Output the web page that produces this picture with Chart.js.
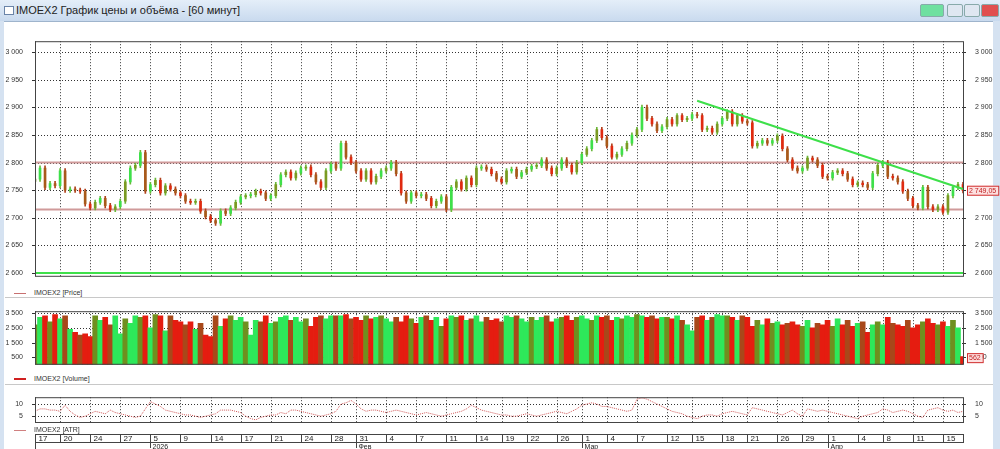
<!DOCTYPE html>
<html><head><meta charset="utf-8">
<script src="https://cdn.jsdelivr.net/npm/chart.js@4.4.1/dist/chart.umd.min.js"></script>
<style>
body{margin:0;width:1000px;height:449px;background:#fff;overflow:hidden;font-family:"Liberation Sans",Arial,sans-serif;position:relative}
#bar{position:absolute;left:0;top:0;width:1000px;height:21px;background:linear-gradient(#e4eef9,#c9daee);border-bottom:1px solid #9fb4cc}
#bar span{position:absolute;left:16px;top:4px;font-size:11px;color:#222}
#bar i{position:absolute;left:4px;top:6px;width:8px;height:7px;border:1px solid #6a84a8;background:#fff}
.btn{position:absolute;top:4px;height:11px;border:1px solid #8aa;border-radius:2px}
.cv{position:absolute;left:0}
.lg{position:absolute;left:14px;font-size:7px;color:#333}
.lg b{display:inline-block;width:12px;height:1px;vertical-align:middle;margin-right:8px}
.sep{position:absolute;left:5px;width:988px;height:1px;background:#c8c8c8}
#edge{position:absolute;right:0;top:21px;width:7px;height:428px;background:#d5e2f1}
#ledge{position:absolute;left:0;top:21px;width:4px;height:428px;background:#d5e2f1}
</style></head><body>
<div id="bar"><i></i><span>IMOEX2 График цены и объёма - [60 минут]</span>
<div class="btn" style="left:920px;width:22px;background:#6fe0a0"></div>
<div class="btn" style="left:947px;width:14px;background:#dfe7f1"></div>
<div class="btn" style="left:964px;width:14px;background:#dfe7f1"></div>
<div class="btn" style="left:981px;width:16px;background:#e05050"></div></div>
<div id="ledge"></div><div id="edge"></div>
<canvas id="p" class="cv" style="top:33px" width="1000" height="252"></canvas>
<div class="lg" style="top:289px"><b style="background:#c87070"></b>IMOEX2 [Price]</div>
<div class="sep" style="top:297px"></div>
<canvas id="v" class="cv" style="top:303px" width="1000" height="70"></canvas>
<div class="lg" style="top:375px"><b style="background:#d02020;height:2px"></b>IMOEX2 [Volume]</div>
<div class="sep" style="top:384px"></div>
<canvas id="a" class="cv" style="top:389px" width="1000" height="60"></canvas>
<div class="lg" style="top:426px"><b style="background:#d08080"></b>IMOEX2 [ATR]</div>
<script>
const closes=[
2770,2790,2755,2762,2758,2785, 2750,2752,2750,2748,2725,2718,
2728,2735,2722,2715,2720,2730, 2765,2790,2795,2818,2748,2760,
2768,2745,2758,2752,2745,2740, 2730,2728,2730,2712,2702,2695,
2690,2712,2708,2718,2728,2738, 2740,2742,2748,2745,2735,2740,
2760,2778,2783,2772,2781,2790, 2792,2778,2765,2755,2785,2797,
2790,2835,2810,2800,2785,2770, 2785,2765,2775,2785,2790,2800,
2780,2745,2730,2745,2740,2742, 2735,2722,2730,2738,2715,2755,
2765,2752,2772,2760,2790,2792, 2788,2780,2770,2765,2785,2788,
2775,2782,2788,2793,2795,2805, 2790,2780,2790,2805,2795,2783,
2800,2815,2825,2840,2860,2845, 2830,2810,2815,2825,2835,2850,
2860,2900,2880,2870,2858,2865, 2878,2870,2885,2878,2880,2887,
2885,2860,2862,2855,2870,2880, 2892,2870,2885,2875,2872,2830,
2835,2840,2835,2840,2848,2825, 2805,2790,2785,2790,2808,2805,
2795,2775,2772,2782,2785,2780, 2770,2760,2763,2760,2755,2780,
2795,2800,2775,2772,2765,2748, 2735,2722,2718,2755,2720,2715,
2720,2710,2740,2755,2760,2749];
const volumes=[
2700,3200,3300,2900,3400,3100, 3300,2400,2200,2000,2100,1900,
3300,3000,3200,2700,3300,2100, 3100,2800,3300,3200,3300,2500,
3400,3300,2300,3300,3000,2900, 2700,2900,2400,2800,2000,1900,
3300,2600,3100,3300,3000,3200, 2900,2000,3000,2900,3300,2800,
2900,3200,3300,3000,3200,2900, 3100,2600,3200,3300,3100,3300,
3300,3300,3400,3100,3200,3000, 3300,3100,3200,3300,3100,2900,
3200,2900,3300,3100,2800,3200, 3300,3000,3200,2600,3100,3300,
3200,3300,3000,3100,3300,2900, 3200,3000,3100,2900,3300,3200,
3300,3100,2900,3200,3000,3200, 3300,2900,3100,3200,3300,3000,
3200,3300,3100,3000,3300,3200, 3300,3000,3200,3100,3300,3200,
3400,3300,3200,3300,3100,3200, 3200,3100,3300,3000,2700,2300,
3200,3300,3000,3200,3400,3300, 3300,3200,3000,3300,3200,2600,
3000,2700,3100,2800,2900,2700, 2800,2900,2700,2600,3000,2500,
2800,2700,3000,2600,3100,2700, 3000,2600,2800,2900,2200,2700,
2900,2700,3200,2800,2700,2600, 3000,2500,2700,2900,3100,2800,
2700,2900,2600,3000,2500,562];
const atr=[
7,8,8,7.5,7.5,7, 9.5,7,5.5,4.5,5,6, 7,6.5,6,7.5,6.5,6, 5.5,5,4.5,5,8,11,
10,9,7.5,7,6.5,6, 5.5,5.5,5,4.5,5,5.5, 6,7.5,7.5,7.5,7,6.5, 5,4,3.5,4.5,5,5.5,
5.5,6.5,6,7.5,7.5,7, 6.5,6,5.5,5,5.5,6, 7,10,10.5,11.5,10,8, 7,7.5,7.5,7,6.5,7,
7.5,7,6.5,6,5.5,6, 6.5,6,5.5,5,5.5,6, 6.5,7,8,9.5,8.5,7.5, 7,6.5,6,5.5,5.5,5,
5,5.5,6,5.5,5,5.5, 6,6.5,7,6.5,6,7, 8,9.5,10,10.5,10,9, 9,8.5,8,7.5,7,7.5,
12,12.5,12,11,10,9, 8,7,6.5,6,5,4.5, 4,5,5.5,5.5,5,6, 6.5,7,6.5,6,5.5,8.5,
8,7.5,7,6.5,6,5.5, 6.5,7.5,6,5,8,7.5, 7,7.5,7,6.5,6,5.5, 5,4.5,4,5,5.5,6,
6.5,8,7.5,6.5,7,7.5, 7,6,5,4.5,7.5,8, 8.5,7.5,7,7.5,6.5,7];
const dayLabels=['17','20','24','27','5','9','14','17','21','24','28','31','4','7','11','14','19','22','26','1','4','7','12','15','18','21','26','29','1','4','8','11','15'];
const dayIdx=[0,5,11,17,23,29,35,41,47,53,59,64,70,76,82,88,93,98,104,109,114,120,126,131,137,142,148,153,158,164,169,175,181];
const monthLabels=['2026','Фев','Мар','Апр'];
const monthIdx=[23,64,109,158];
const priceTicks=[2600,2650,2700,2750,2800,2850,2900,2950,3000];
const volTicks=[500,1000,1500,2000,2500,3000,3500];
const atrTicks=[5,10];
const levels={red:[2800,2715],green:[2600]};
const trendIdx=[132,185], trendVal=[2912,2752];
const lastPrice='2 749,05', lastVol='562';

const labels=closes.map((_,i)=>i);
const opens=closes.map((c,i)=>i?closes[i-1]:c-4);
const up=closes.map((c,i)=>c>=opens[i]);
const fmt=v=>String(v).replace(/\B(?=(\d{3})+(?!\d))/g,' ');
const F={size:7,family:'Liberation Sans'};
const L=35,R=37;
Chart.defaults.animation=false;Chart.defaults.responsive=false;
Chart.defaults.plugins.legend.display=false;Chart.defaults.plugins.tooltip.enabled=false;
const gridX={display:true,offset:false,grid:{display:false},border:{display:false},ticks:{display:false,autoSkip:false},afterFit:s=>{s.height=0}};
function yAx(pos,min,max,tk){return {position:pos,min,max,grid:{display:false},border:{display:false},
 afterBuildTicks:s=>{s.ticks=tk.map(v=>({value:v}))},
 ticks:{font:F,color:'#333',padding:4,callback:v=>fmt(v)},afterFit:s=>{s.width=pos==='left'?L:R}};}
const frame={id:'frame',
 beforeDatasetsDraw(ch){const c=ch.ctx,ca=ch.chartArea,y=ch.scales.y,x=ch.scales.x;c.save();c.strokeStyle='#333';c.lineWidth=1;c.setLineDash([1,2]);
  y.ticks.forEach(t=>{const py=Math.round(y.getPixelForValue(t.value))+.5;c.beginPath();c.moveTo(ca.left,py);c.lineTo(ca.right,py);c.stroke();});
  dayIdx.forEach(ix=>{const px=Math.round(x.getPixelForValue(ix))+.5;c.beginPath();c.moveTo(px,ca.top);c.lineTo(px,ca.bottom);c.stroke();});
  c.setLineDash([]);
  y.ticks.forEach(t=>{const py=Math.round(y.getPixelForValue(t.value))+.5;c.beginPath();c.moveTo(ca.left-3,py);c.lineTo(ca.left,py);c.moveTo(ca.right,py);c.lineTo(ca.right+3,py);c.stroke();});
  c.restore();},
 afterDraw(ch,a,o){const c=ch.ctx,ca=ch.chartArea;c.save();c.strokeStyle='#444';c.lineWidth=1;c.setLineDash([]);c.strokeRect(ca.left+.5,ca.top+.5,ca.right-ca.left,ca.bottom-ca.top-1);
 if(o.box){const y=ch.scales.y.getPixelForValue(o.val);c.font='7px Liberation Sans';const w=c.measureText(o.box).width+4;c.fillStyle='#fde0e0';c.fillRect(ca.right+4,y-5,w,10);c.strokeStyle='#d03030';c.strokeRect(ca.right+4.5,y-4.5,w,9);c.fillStyle='#c02020';c.textBaseline='middle';c.fillText(o.box,ca.right+6,y);}
 c.restore();}};

const lineSet=(v,col,w)=>({type:'line',data:labels.map(()=>v),borderColor:col,borderWidth:w,pointRadius:0,order:5});
const trend=labels.map(i=>trendIdx.includes(i)?trendVal[trendIdx.indexOf(i)]:null);
new Chart(document.getElementById('p'),{type:'bar',data:{labels,datasets:[
 {data:closes.map((c,i)=>[Math.min(opens[i],c)-4,Math.max(opens[i],c)+4]),backgroundColor:up.map(u=>u?'#6ab83a':'#b0401c'),barThickness:1,grouped:false,order:2},
 {data:closes.map((c,i)=>[opens[i],c===opens[i]?c+1:c]),backgroundColor:up.map((u,i)=>u?(i%2?'#3ee04a':'#7a9a22'):(i%2?'#e02a10':'#a85a1a')),barThickness:2,grouped:false,order:1},
 ...levels.red.map(v=>lineSet(v,'#d09a9a',2)),...levels.green.map(v=>lineSet(v,'#3ee04a',2)),
 {type:'line',data:trend,spanGaps:true,borderColor:'#3ee04a',borderWidth:2,pointRadius:0,order:0}
]},options:{scales:{x:gridX,y:yAx('left',2593,3020,priceTicks),y2:yAx('right',2593,3020,priceTicks)},plugins:{frame:{box:lastPrice,val:2749}}},plugins:[frame]});

new Chart(document.getElementById('v'),{type:'bar',data:{labels,datasets:[
 {data:volumes,backgroundColor:up.map((u,i)=>u?(i%3?'#2ee85a':'#6f8f1f'):(i%3?'#e51c10':'#a8481a')),barPercentage:1,categoryPercentage:1}
]},options:{scales:{x:gridX,y:yAx('left',0,3620,volTicks),y2:yAx('right',0,3620,volTicks)},plugins:{frame:{box:lastVol,val:450}}},plugins:[frame]});

const dateAxis={id:'dates',afterDraw(ch){const c=ch.ctx,ca=ch.chartArea,x=ch.scales.x;c.save();c.strokeStyle='#444';c.lineWidth=1;
 const t=ca.bottom+11,b=t+8;c.strokeRect(ca.left+.5,t+.5,ca.right-ca.left,8);
 c.font='8px Liberation Sans';c.fillStyle='#222';c.textBaseline='middle';
 dayIdx.forEach((ix,k)=>{const px=Math.round(x.getPixelForValue(ix))+.5;c.beginPath();c.moveTo(px,t);c.lineTo(px,b);c.stroke();c.fillText(dayLabels[k],px+3,t+4.5);});
 c.beginPath();c.moveTo(ca.left+.5,b);c.lineTo(ca.left+.5,b+8);c.stroke();
 c.font='7px Liberation Sans';
 monthIdx.forEach((ix,k)=>{const px=Math.round(x.getPixelForValue(ix))+.5;c.beginPath();c.moveTo(px,b);c.lineTo(px,b+6);c.stroke();c.fillText(monthLabels[k],px+2,b+5);});
 c.restore();}};
new Chart(document.getElementById('a'),{type:'line',data:{labels,datasets:[
 {data:atr,borderColor:'#d05858',borderWidth:1,borderDash:[1,1],pointRadius:0,tension:0}
]},options:{layout:{padding:{bottom:26}},scales:{x:gridX,y:yAx('left',2.2,12.8,atrTicks),y2:yAx('right',2.2,12.8,atrTicks)}},plugins:[frame,dateAxis]});
</script></body></html>
